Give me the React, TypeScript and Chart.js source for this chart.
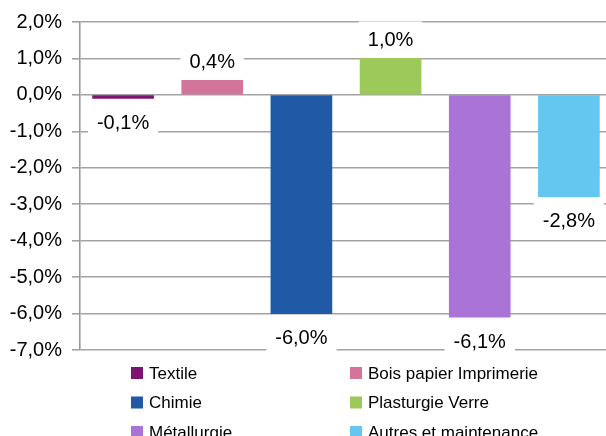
import React, { useEffect, useRef } from "react";
import { Chart, registerables } from "chart.js";

Chart.register(...registerables);

// Sectors and their change, in percent
const sectors = [
  "Textile",
  "Bois papier Imprimerie",
  "Chimie",
  "Plasturgie Verre",
  "Métallurgie",
  "Autres et maintenance",
];
const changes = [-0.1, 0.4, -6.0, 1.0, -6.1, -2.8];
const sectorColors = ["#7E1470", "#D3759A", "#2059A6", "#9DC85A", "#AA74D6", "#63C7F0"];

// Value axis
const yMin = -7;
const yMax = 2;
const yStep = 1;

const FONT = "'Liberation Sans', Arial, Helvetica, sans-serif";

const fmtPct = (v: number) => v.toFixed(1).replace(".", ",") + "%";

// Value labels on white boxes, above positive bars and below negative ones
const valueLabels = {
  id: "valueLabels",
  afterDatasetsDraw(chart: any) {
    const { ctx } = chart;
    const meta = chart.getDatasetMeta(0);
    ctx.save();
    ctx.font = `20px ${FONT}`;
    ctx.textAlign = "center";
    ctx.textBaseline = "middle";
    meta.data.forEach((bar: any, i: number) => {
      const v = changes[i];
      const text = fmtPct(v);
      const w = ctx.measureText(text).width + 18;
      const h = 36;
      const cy = v >= 0 ? bar.y - 19 : bar.y + 24;
      ctx.fillStyle = "#ffffff";
      ctx.fillRect(bar.x - w / 2, cy - h / 2, w, h);
      ctx.fillStyle = "#000000";
      ctx.fillText(text, bar.x, cy + 1);
    });
    ctx.restore();
  },
};

// Two-column legend under the plot
const gridLegend = {
  id: "gridLegend",
  afterDraw(chart: any) {
    const { ctx, chartArea } = chart;
    const colX = [131, 350];
    const top = chartArea.bottom + 23;
    const rowH = 29.5;
    ctx.save();
    ctx.font = `17px ${FONT}`;
    ctx.textAlign = "left";
    ctx.textBaseline = "middle";
    sectors.forEach((name, i) => {
      const x = colX[i % 2];
      const cy = top + Math.floor(i / 2) * rowH;
      ctx.fillStyle = sectorColors[i];
      ctx.fillRect(x, cy - 6, 12, 12);
      ctx.fillStyle = "#000000";
      ctx.fillText(name, x + 18, cy + 1);
    });
    ctx.restore();
  },
};

export default function App() {
  const canvasRef = useRef<HTMLCanvasElement | null>(null);

  useEffect(() => {
    if (!canvasRef.current) return;
    const chart = new Chart(canvasRef.current, {
      type: "bar",
      data: {
        datasets: [
          {
            label: "Variation",
            data: changes.map((v, i) => ({ x: i, y: v })),
            backgroundColor: sectorColors,
            barThickness: 61,
          },
        ],
      },
      options: {
        responsive: false,
        animation: false,
        devicePixelRatio: 1,
        layout: { padding: { top: 20, bottom: 86, left: 0, right: 0 } },
        plugins: {
          legend: { display: false },
          tooltip: { enabled: false },
        },
        scales: {
          x: {
            type: "linear",
            min: -0.483,
            max: 5.416,
            offset: false,
            display: false,
          },
          y: {
            min: yMin,
            max: yMax,
            ticks: {
              stepSize: yStep,
              padding: 10,
              color: "#000000",
              font: { family: FONT, size: 20 },
              callback: (v: any) => fmtPct(Number(v)),
            },
            grid: {
              color: "#a3a3a3",
              lineWidth: 1.6,
              tickLength: 8,
            },
            border: { display: true, color: "#9a9a9a", width: 1.6 },
            afterFit: (scale: any) => {
              scale.width = 80;
            },
          },
        },
      },
      plugins: [valueLabels, gridLegend],
    } as any);
    return () => chart.destroy();
  }, []);

  return (
    <div style={{ position: "absolute", left: 0, top: 0, width: 606, height: 436, background: "#fff", overflow: "hidden" }}>
      <canvas ref={canvasRef} width={606} height={436} />
    </div>
  );
}
